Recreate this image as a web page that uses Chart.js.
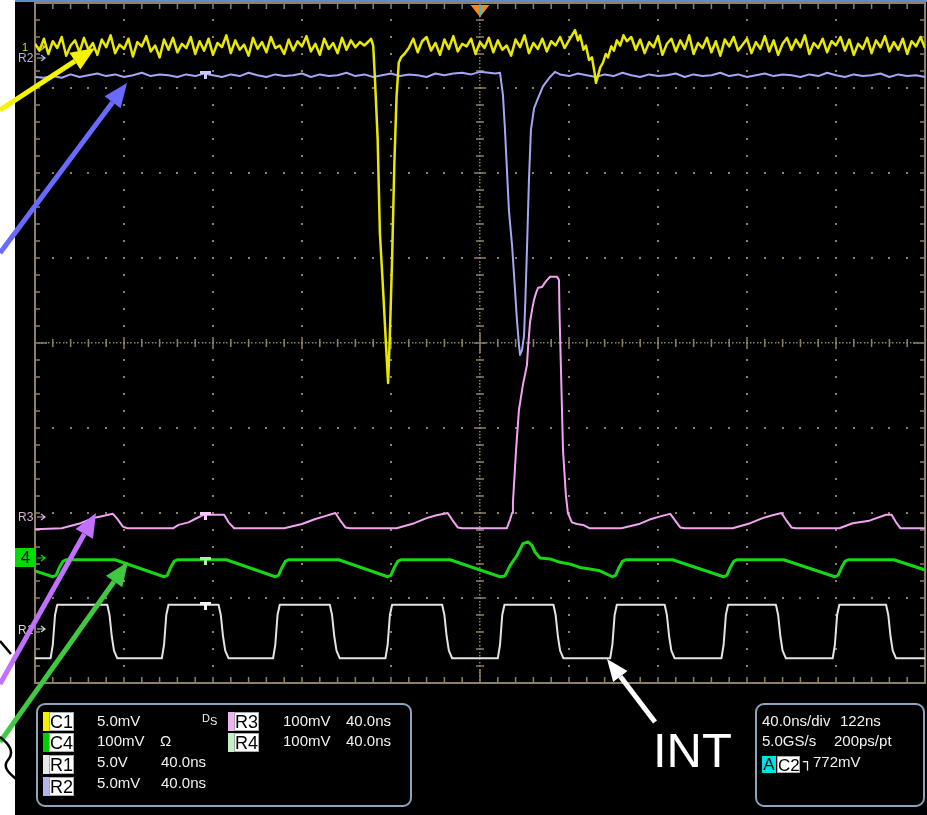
<!DOCTYPE html>
<html>
<head>
<meta charset="utf-8">
<title>Scope capture</title>
<script src="https://cdn.jsdelivr.net/npm/chart.js@4.4.1/dist/chart.umd.min.js"></script>
<style>
  body { margin: 0; width: 927px; height: 815px; overflow: hidden; position: relative; background: #fff;
         font-family: "Liberation Sans", Arial, sans-serif; }
  #scope { position: absolute; left: 0; top: 0; }
  .frame { position: absolute; border: 2px solid #8da2bc; border-radius: 9px; }
  .txt { position: absolute; color: #f2f2f2; font-size: 15px; line-height: 18px; white-space: pre; }
  .tag { position: absolute; width: 25px; height: 19px; background: #fff; color: #000; font-size: 18px;
         line-height: 19px; text-align: center; box-sizing: border-box; border: 1px solid #aaa; }
  .stripe { position: absolute; width: 6px; height: 19px; }
  .side { position: absolute; font-size: 12px; line-height: 12px; }
  #notes { position: absolute; left: 0; top: 0; pointer-events: none; }
</style>
</head>
<body>
<canvas id="scope" width="927" height="815"></canvas>

<!-- channel markers left of the graticule -->
<div class="side" style="left:22px;top:41px;color:#d8d800;font-size:11px">1</div>
<div class="side" style="left:18px;top:52px;color:#b2b2e4">R2</div>
<div class="side" style="left:18px;top:511px;color:#dcaedc">R3</div>
<div class="side" style="left:15px;top:548px;width:21px;height:19px;background:#00dc00;color:#000;font-size:17px;line-height:19px;text-align:center">4</div>
<div class="side" style="left:18px;top:624px;color:#d6d6d6">R1</div>

<!-- channel readout -->
<div class="frame" style="left:36px;top:703px;width:372px;height:100px"></div>
<i class="stripe" style="left:43px;top:712px;background:#f0f000"></i><span class="tag" style="left:49px;top:712px">C1</span>
<i class="stripe" style="left:43px;top:733px;background:#00d000"></i><span class="tag" style="left:49px;top:733px">C4</span>
<i class="stripe" style="left:43px;top:755px;background:#e8e8e8"></i><span class="tag" style="left:49px;top:755px">R1</span>
<i class="stripe" style="left:43px;top:777px;background:#b4b4f0"></i><span class="tag" style="left:49px;top:777px">R2</span>
<span class="txt" style="left:97px;top:712px">5.0mV</span>
<span class="txt" style="left:97px;top:732px">100mV</span>
<span class="txt" style="left:97px;top:753px">5.0V</span>
<span class="txt" style="left:97px;top:774px">5.0mV</span>
<span class="txt" style="left:160px;top:732px">Ω</span>
<span class="txt" style="left:161px;top:753px">40.0ns</span>
<span class="txt" style="left:161px;top:774px">40.0ns</span>
<span class="txt" style="left:202px;top:709px;font-size:11px">D<sub style="font-size:11px">S</sub></span>
<i class="stripe" style="left:228px;top:712px;background:#f0b4f0"></i><span class="tag" style="left:234px;top:712px">R3</span>
<i class="stripe" style="left:228px;top:733px;background:#c4f0c4"></i><span class="tag" style="left:234px;top:733px">R4</span>
<span class="txt" style="left:283px;top:712px">100mV</span>
<span class="txt" style="left:283px;top:732px">100mV</span>
<span class="txt" style="left:346px;top:712px">40.0ns</span>
<span class="txt" style="left:346px;top:732px">40.0ns</span>

<!-- timebase / trigger readout -->
<div class="frame" style="left:755px;top:703px;width:166px;height:100px"></div>
<span class="txt" style="left:762px;top:712px">40.0ns/div</span>
<span class="txt" style="left:840px;top:712px">122ns</span>
<span class="txt" style="left:762px;top:732px">5.0GS/s</span>
<span class="txt" style="left:834px;top:732px">200ps/pt</span>
<span class="tag" style="left:762px;top:756px;width:14px;height:17px;line-height:17px;font-size:17px;background:#00e2ea;border:none">A</span>
<span class="tag" style="left:777px;top:756px;width:23px;height:17px;line-height:17px;font-size:17px">C2</span>
<span class="txt" style="left:803px;top:753px;font-family:'DejaVu Sans'">┐</span>
<span class="txt" style="left:813px;top:753px">772mV</span>

<div class="txt" style="left:653px;top:726px;font-size:49px;line-height:49px;color:#fff">INT</div>

<svg id="notes" width="927" height="815"></svg>

<script>
// ---- data (time in ns, level in divisions) ----
const NS_PER_DIV = 40;

// C1 (yellow): noisy record sampled every 2 ns, with the dip and the small notch read point by point
const c1StartA = -200;
const c1LevelsA = [3.52,3.44,3.58,3.40,3.55,3.47,3.60,3.38,3.50,3.56,3.42,3.59,3.45,3.53,3.39,3.57,3.48,3.62,3.41,3.51,
  3.46,3.58,3.37,3.54,3.49,3.61,3.43,3.50,3.36,3.57,3.45,3.59,3.42,3.52,3.47,3.60,3.40,3.55,3.44,3.58,
  3.39,3.53,3.48,3.62,3.41,3.56,3.45,3.51,3.38,3.59,3.46,3.54,3.42,3.60,3.47,3.50,3.40,3.57,3.44,3.55,
  3.49,3.61,3.43,3.52,3.39,3.58,3.46,3.53,3.41,3.59,3.45,3.56,3.48,3.54,3.50,3.55];
const c1DipTimes = [-49, -48, -47.2, -46, -45, -43.5, -42.3, -41.3, -40.5, -39.5, -38.5, -37.5, -36.5, -35.5, -34];
const c1DipLevels = [3.58, 3.50, 3.10, 2.40, 1.30, 0.60, 0.00, -0.47, 0.10, 1.00, 2.10, 2.90, 3.30, 3.36, 3.40];
const c1StartB = -32;
const c1LevelsB = [3.47,3.58,3.42,3.55,3.60,3.44,3.53,3.39,3.57,3.46,3.61,3.43,3.52,3.49,3.58,3.40,3.54,3.47,3.59,3.42,
  3.56,3.45,3.50,3.38,3.57,3.48,3.62,3.41,3.53,3.46,3.58,3.43,3.55,3.50,3.60,3.47,3.56];
const c1NotchTimes = [42.7, 44, 45, 46.5, 47.6, 49, 50.3, 51.5, 52.1, 53, 54, 55.3, 56.5, 57.5, 59, 60.2, 61.5, 63, 64.5, 66];
const c1NotchLevels = [3.68, 3.56, 3.62, 3.45, 3.50, 3.33, 3.36, 3.18, 3.06, 3.14, 3.24, 3.30, 3.40, 3.36, 3.49, 3.44, 3.56, 3.50, 3.62, 3.55];
const c1StartC = 68;
const c1LevelsC = [3.60,3.45,3.57,3.41,3.54,3.48,3.61,3.39,3.52,3.58,3.43,3.56,3.46,3.62,3.40,3.53,3.47,3.59,3.42,3.55,
  3.38,3.57,3.49,3.60,3.44,3.51,3.58,3.41,3.54,3.46,3.61,3.43,3.56,3.39,3.52,3.59,3.45,3.57,3.48,3.62,
  3.40,3.53,3.47,3.58,3.42,3.55,3.50,3.60,3.44,3.57,3.39,3.52,3.46,3.59,3.41,3.56,3.48,3.61,3.43,3.54,
  3.45,3.58,3.40,3.55,3.49,3.60,3.47];

// R2 (lavender): sampled every 4 ns, dip read point by point
const r2StartA = -200;
const r2LevelsA = [3.13,3.12,3.14,3.12,3.16,3.13,3.15,3.17,3.14,3.16,3.13,3.15,3.18,3.14,3.16,3.15,3.13,3.16,3.14,3.17,
  3.15,3.13,3.16,3.14,3.18,3.15,3.13,3.16,3.14,3.15,3.17,3.13,3.16,3.14,3.15,3.18,3.14,3.16,3.13,3.15,
  3.17,3.14,3.16,3.15,3.13,3.17,3.15];
const r2DipTimes = [-12, -8, -4, 0, 4, 7, 9.0, 10.3, 11.2, 12.1, 13.0, 14.4, 15.3, 16.6, 17.5, 18.0, 18.9, 19.8, 20.4, 21.1, 22.0, 22.9, 24.3, 26.1, 28.3, 31.5, 33.7];
const r2DipLevels = [3.17, 3.18, 3.16, 3.19, 3.18, 3.17, 3.18, 2.92, 2.52, 2.04, 1.56, 1.15, 0.80, 0.27, -0.02, -0.14, -0.08, 0.09, 0.51, 1.09, 1.92, 2.51, 2.76, 2.88, 3.02, 3.13, 3.19];
const r2StartB = 36;
const r2LevelsB = [3.16,3.14,3.17,3.15,3.13,3.16,3.14,3.18,3.15,3.13,3.16,3.14,3.15,3.17,3.13,3.16,3.14,3.15,3.18,3.14,
  3.16,3.13,3.15,3.17,3.14,3.16,3.15,3.13,3.16,3.14,3.18,3.15,3.13,3.16,3.14,3.15,3.17,3.13,3.16,3.14,
  3.15,3.13];

// R3 (pink)
const r3Times = [-200, -188, -179.5, -174, -170.5, -165, -163, -160.5, -158.5,
  -138, -135.5, -131, -126.5, -124, -115, -113, -110.5,
  -88, -80, -74, -70, -65, -63, -60.5, -58.5,
  -37.5, -29.5, -24, -20, -14.5, -12.5, -10, -8,
  12.1, 12.6, 13.5, 14.4, 14.8, 16.2, 17.5, 19.3, 21.1, 21.6, 22.5, 23.4, 24.3, 25.2, 26.1, 27.9, 29.2, 30.1, 31.5,
  34.6, 35.5, 35.7, 36.4, 37.3, 38.6, 39.5, 41.3, 43.6, 46.3, 49.4,
  63.5, 71.5, 77, 81, 85.5, 87.5, 90, 92,
  113.5, 121.5, 127, 131, 135.5, 137.5, 140, 142,
  161.5, 167.5, 175, 182.5, 185, 187, 189, 200];
const r3Levels = [-2.19, -2.18, -2.12, -2.06, -2.04, -2.01, -2.07, -2.16, -2.18,
  -2.18, -2.14, -2.11, -2.05, -2.02, -2.02, -2.11, -2.18,
  -2.18, -2.13, -2.07, -2.04, -2.00, -2.08, -2.17, -2.18,
  -2.18, -2.12, -2.06, -2.03, -2.00, -2.08, -2.17, -2.18,
  -2.18, -2.14, -2.08, -2.00, -1.88, -1.26, -0.79, -0.49, -0.26, -0.05, 0.25, 0.39, 0.51, 0.59, 0.65, 0.66, 0.71, 0.74, 0.78,
  0.78, 0.74, 0.39, -0.32, -1.26, -1.79, -2.00, -2.11, -2.13, -2.14, -2.18,
  -2.18, -2.13, -2.07, -2.04, -2.01, -2.08, -2.17, -2.18,
  -2.18, -2.12, -2.06, -2.03, -2.00, -2.08, -2.17, -2.18,
  -2.18, -2.12, -2.09, -2.02, -2.02, -2.11, -2.18, -2.18];

// C4 (green)
const c4Times = [-200, -192, -190.5, -189, -187.5, -186, -164,
  -142, -140.5, -139, -137.5, -136, -114,
  -92, -90.5, -89, -87.5, -86, -63.5,
  -41.5, -40, -38.5, -37, -35.5, -13.5,
  9, 11.2, 13.5, 16.6, 19.3, 21.6, 23.4, 24.7, 27, 31.5, 36, 40.4, 44.9, 49.4, 53.9,
  59.5, 61, 62.5, 64, 65.5, 86.5,
  109.5, 111, 112.5, 114, 115.5, 136.5,
  159.5, 161, 162.5, 164, 165.5, 186, 200];
const c4Levels = [-2.68, -2.75, -2.73, -2.64, -2.57, -2.55, -2.55,
  -2.75, -2.73, -2.64, -2.57, -2.55, -2.55,
  -2.75, -2.73, -2.64, -2.57, -2.55, -2.55,
  -2.75, -2.73, -2.64, -2.57, -2.55, -2.55,
  -2.75, -2.74, -2.62, -2.50, -2.36, -2.34, -2.38, -2.46, -2.53, -2.54, -2.58, -2.60, -2.64, -2.66, -2.68,
  -2.75, -2.73, -2.64, -2.57, -2.55, -2.55,
  -2.75, -2.73, -2.64, -2.57, -2.55, -2.55,
  -2.75, -2.73, -2.64, -2.57, -2.55, -2.55, -2.67];

// R1 (white, INT)
const r1Times = [-200,
  -193, -192, -191, -190, -167.5, -166.5, -165.5, -164.5, -163,
  -143, -142, -141, -140, -117.5, -116.5, -115.5, -114.5, -113,
  -93, -92, -91, -90, -67.5, -66.5, -65.5, -64.5, -63,
  -42.5, -41.5, -40.5, -39.5, -17, -16, -15, -14, -12.5,
  8, 9, 10, 11, 33, 34, 35, 36, 37.5,
  58.5, 59.5, 60.5, 61.5, 83, 84, 85, 86, 87.5,
  108.5, 109.5, 110.5, 111.5, 133, 134, 135, 136, 137.5,
  158.5, 159.5, 160.5, 161.5, 182.5, 183.5, 184.5, 185.5, 187,
  200];
const r1Levels = [-3.71,
  -3.71, -3.55, -3.20, -3.08, -3.08, -3.20, -3.45, -3.62, -3.71,
  -3.71, -3.55, -3.20, -3.08, -3.08, -3.20, -3.45, -3.62, -3.71,
  -3.71, -3.55, -3.20, -3.08, -3.08, -3.20, -3.45, -3.62, -3.71,
  -3.71, -3.55, -3.20, -3.08, -3.08, -3.20, -3.45, -3.62, -3.71,
  -3.71, -3.55, -3.20, -3.08, -3.08, -3.20, -3.45, -3.62, -3.71,
  -3.71, -3.55, -3.20, -3.08, -3.08, -3.20, -3.45, -3.62, -3.71,
  -3.71, -3.55, -3.20, -3.08, -3.08, -3.20, -3.45, -3.62, -3.71,
  -3.71, -3.55, -3.20, -3.08, -3.08, -3.20, -3.45, -3.62, -3.71,
  -3.71];

// "T" reference-time markers sitting on the traces
const markerTime = -123.6;
const markerLevels = [3.17, -2.02, -2.55, -3.08];
const markerColors = ['#c8c8ff', '#ffc8ff', '#a8f0a8', '#f4f4f4'];

// ---- helpers to turn the arrays into chart points ----
function sampled(start, step, levels) {
  return levels.map((v, i) => ({ x: start + i * step, y: v }));
}
function paired(times, levels) {
  return times.slice(0, levels.length).map((t, i) => ({ x: t, y: levels[i] }));
}

const GRID = '#8f8063';

const screenBackground = {
  id: 'screenBackground',
  beforeDraw(chart) {
    const { ctx, width, height } = chart;
    ctx.save();
    ctx.fillStyle = '#fff';
    ctx.fillRect(0, 0, width, height);
    ctx.fillStyle = '#000';
    ctx.fillRect(15, 0, width - 15, height);
    ctx.fillStyle = '#5b8fca';
    ctx.fillRect(15, 0, width - 15, 2);
    ctx.restore();
  }
};

// dotted graticule, centre cross and border ticks, placed through the scales
const graticule = {
  id: 'graticule',
  beforeDatasetsDraw(chart) {
    const { ctx, chartArea: a, scales: { x, y } } = chart;
    const px = t => x.getPixelForValue(t);
    const py = v => y.getPixelForValue(v);
    const dot = (u, v, s) => ctx.fillRect(Math.round(u - s / 2), Math.round(v - s / 2), s, s);
    ctx.save();
    ctx.fillStyle = GRID;
    ctx.strokeStyle = GRID;
    for (let d = -4; d <= 4; d++) {
      if (d === 0) continue;
      for (let m = -19; m <= 19; m++) dot(px(d * NS_PER_DIV), py(m / 5), 2);
    }
    for (let d = -3; d <= 3; d++) {
      if (d === 0) continue;
      for (let m = -24; m <= 24; m++) dot(px(m * NS_PER_DIV / 5), py(d), 2);
    }
    // centre lines
    for (let m = -124; m <= 124; m++) dot(px(m * NS_PER_DIV / 25), py(0), 1.5);
    for (let m = -99; m <= 99; m++) dot(px(0), py(m / 25), 1.5);
    ctx.lineWidth = 1.5;
    ctx.beginPath();
    for (let m = -24; m <= 24; m++) {
      const u = px(m * NS_PER_DIV / 5), h = m % 5 === 0 ? 6 : 4;
      ctx.moveTo(u, py(0) - h); ctx.lineTo(u, py(0) + h);
    }
    for (let m = -19; m <= 19; m++) {
      const v = py(m / 5), w = m % 5 === 0 ? 6 : 4;
      ctx.moveTo(px(0) - w, v); ctx.lineTo(px(0) + w, v);
    }
    ctx.moveTo(px(-2), py(0)); ctx.lineTo(px(2), py(0));
    ctx.moveTo(px(0), py(-0.12)); ctx.lineTo(px(0), py(0.12));
    // border ticks
    for (let m = -24; m <= 24; m++) {
      const u = px(m * NS_PER_DIV / 5), h = m === 0 ? 14 : 6;
      ctx.moveTo(u, a.top); ctx.lineTo(u, a.top + h);
      ctx.moveTo(u, a.bottom); ctx.lineTo(u, a.bottom - h);
    }
    for (let m = -19; m <= 19; m++) {
      const v = py(m / 5), w = m === 0 ? 12 : 5;
      ctx.moveTo(a.left, v); ctx.lineTo(a.left + w, v);
      ctx.moveTo(a.right, v); ctx.lineTo(a.right - w, v);
    }
    ctx.stroke();
    ctx.lineWidth = 2;
    ctx.strokeRect(a.left, a.top, a.right - a.left, a.bottom - a.top);
    ctx.restore();
  },
  afterDraw(chart) {
    const { ctx, chartArea: a, scales: { x, y } } = chart;
    const c = x.getPixelForValue(0);
    ctx.save();
    // reference markers
    const mx = Math.round(x.getPixelForValue(markerTime));
    markerLevels.forEach((lv, i) => {
      const my = Math.round(y.getPixelForValue(lv));
      ctx.fillStyle = markerColors[i];
      ctx.fillRect(mx - 5, my - 3, 11, 3);
      ctx.fillRect(mx - 1, my, 3, 5);
    });
    // trigger position marker
    ctx.fillStyle = '#f08a24';
    ctx.beginPath();
    ctx.moveTo(c - 9.5, a.top + 2); ctx.lineTo(c + 9.5, a.top + 2); ctx.lineTo(c, a.top + 14);
    ctx.closePath(); ctx.fill();
    ctx.strokeStyle = '#22c4d4'; ctx.lineWidth = 2;
    ctx.beginPath(); ctx.moveTo(c, a.top + 2); ctx.lineTo(c, a.top + 12); ctx.stroke();
    ctx.restore();
  }
};

const trace = (label, color, width, data) => ({
  label, data, borderColor: color, borderWidth: width, pointRadius: 0, tension: 0, fill: false,
  borderJoinStyle: 'round'
});

new Chart(document.getElementById('scope').getContext('2d'), {
  type: 'line',
  data: {
    datasets: [
      trace('C1', '#e8e800', 2.5, [
        ...sampled(c1StartA, 2, c1LevelsA), ...paired(c1DipTimes, c1DipLevels),
        ...sampled(c1StartB, 2, c1LevelsB), ...paired(c1NotchTimes, c1NotchLevels),
        ...sampled(c1StartC, 2, c1LevelsC)]),
      trace('R2', '#a6a6f2', 2, [
        ...sampled(r2StartA, 4, r2LevelsA), ...paired(r2DipTimes, r2DipLevels), ...sampled(r2StartB, 4, r2LevelsB)]),
      trace('R3', '#f2a4f2', 2, paired(r3Times, r3Levels)),
      trace('C4', '#16d616', 3, paired(c4Times, c4Levels)),
      trace('R1', '#e4e4e4', 2, paired(r1Times, r1Levels))
    ]
  },
  options: {
    responsive: false,
    animation: false,
    events: [],
    layout: { padding: { left: 35, right: 2, top: 3, bottom: 132 } },
    plugins: { legend: { display: false }, tooltip: { enabled: false } },
    scales: {
      x: { type: 'linear', min: -5 * NS_PER_DIV, max: 5 * NS_PER_DIV, display: false },
      y: { type: 'linear', min: -4, max: 4, display: false }
    }
  },
  plugins: [screenBackground, graticule]
});

// ---- hand-drawn annotation arrows on top ----
const svg = document.getElementById('notes');
function arrow(x1, y1, x2, y2, color, width, headLen, headHalf) {
  const len = Math.hypot(x2 - x1, y2 - y1), ux = (x2 - x1) / len, uy = (y2 - y1) / len;
  const bx = x2 - ux * headLen, by = y2 - uy * headLen;
  svg.insertAdjacentHTML('beforeend',
    `<line x1="${x1}" y1="${y1}" x2="${bx}" y2="${by}" stroke="${color}" stroke-width="${width}"/>` +
    `<polygon points="${x2},${y2} ${bx - uy * headHalf},${by + ux * headHalf} ${bx + uy * headHalf},${by - ux * headHalf}" fill="${color}"/>`);
}
arrow(0, 110, 95, 48, '#f4f400', 5, 24, 10);
arrow(0, 253, 127, 83, '#6a6aff', 5, 24, 10);
arrow(0, 684, 96, 513, '#c270ff', 5, 24, 10);
arrow(0, 742, 128, 562, '#40c840', 5, 24, 10);
arrow(655, 722, 607, 659, '#ffffff', 5, 22, 9);
// small channel arrows at the left edge
[[47, '#d8d800'], [58, '#b2b2e4'], [517, '#dcaedc'], [558, '#00dc00'], [629, '#d6d6d6']].forEach(([y, c]) => {
  svg.insertAdjacentHTML('beforeend',
    `<path d="M37 ${y} H45 M41 ${y - 3} L45 ${y} L41 ${y + 3}" stroke="${c}" stroke-width="1.2" fill="none"/>`);
});
// pen scribble in the white margin
svg.insertAdjacentHTML('beforeend',
  '<path d="M0 641 L11 654 M0 737 C9 744 15 752 8 760 C2 767 9 773 16 779" stroke="#000" stroke-width="2.5" fill="none"/>');
</script>
</body>
</html>
